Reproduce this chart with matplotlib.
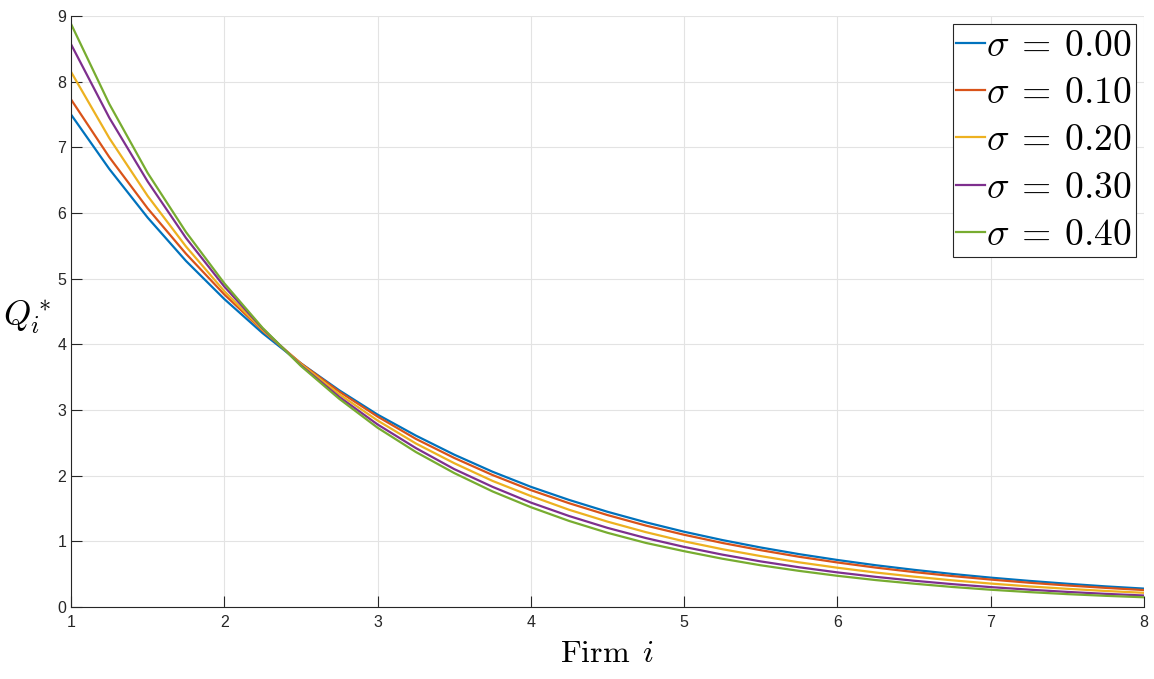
import matplotlib
matplotlib.use("Agg")
import matplotlib.pyplot as plt

# Firm index sample points
firm = [1, 1.25, 1.5, 1.75, 2, 2.25, 2.5, 2.75, 3, 3.25, 3.5, 3.75, 4, 4.25, 4.5, 4.75,
        5, 5.25, 5.5, 5.75, 6, 6.25, 6.5, 6.75, 7, 7.25, 7.5, 7.75, 8]

q_sigma_000 = [7.50, 6.67, 5.93, 5.27, 4.69, 4.17, 3.71, 3.30, 2.93, 2.61, 2.32, 2.06, 1.83, 1.63, 1.45, 1.29,
               1.146, 1.019, 0.906, 0.805, 0.716, 0.636, 0.566, 0.503, 0.447, 0.398, 0.354, 0.314, 0.28]
q_sigma_010 = [7.73, 6.85, 6.07, 5.38, 4.76, 4.21, 3.71, 3.28, 2.90, 2.56, 2.27, 2.01, 1.78, 1.58, 1.40, 1.24,
               1.10, 0.975, 0.865, 0.765, 0.678, 0.600, 0.532, 0.471, 0.418, 0.370, 0.328, 0.291, 0.258]
q_sigma_020 = [8.15, 7.14, 6.26, 5.49, 4.81, 4.22, 3.70, 3.24, 2.84, 2.49, 2.19, 1.92, 1.69, 1.48, 1.30, 1.14,
               1.00, 0.88, 0.775, 0.68, 0.598, 0.525, 0.462, 0.406, 0.357, 0.314, 0.277, 0.244, 0.216]
q_sigma_030 = [8.57, 7.45, 6.48, 5.62, 4.88, 4.24, 3.68, 3.20, 2.78, 2.42, 2.10, 1.83, 1.59, 1.385, 1.205, 1.05,
               0.915, 0.797, 0.694, 0.605, 0.527, 0.459, 0.400, 0.348, 0.303, 0.264, 0.230, 0.200, 0.175]
q_sigma_040 = [8.88, 7.66, 6.61, 5.71, 4.93, 4.25, 3.67, 3.17, 2.73, 2.36, 2.04, 1.76, 1.52, 1.31, 1.13, 0.976,
               0.85, 0.735, 0.635, 0.55, 0.475, 0.41, 0.355, 0.305, 0.263, 0.227, 0.196, 0.170, 0.148]

series = [q_sigma_000, q_sigma_010, q_sigma_020, q_sigma_030, q_sigma_040]
labels = [r'$\sigma\:=\:0.00$', r'$\sigma\:=\:0.10$', r'$\sigma\:=\:0.20$',
          r'$\sigma\:=\:0.30$', r'$\sigma\:=\:0.40$']
colors = ['#0072BD', '#D95319', '#EDB120', '#7E2F8E', '#77AC30']

x_ticks = [1, 2, 3, 4, 5, 6, 7, 8]
y_ticks = [0, 1, 2, 3, 4, 5, 6, 7, 8, 9]

plt.rcParams['mathtext.fontset'] = 'cm'
plt.rcParams['font.family'] = ['Liberation Sans', 'DejaVu Sans']

fig = plt.figure(figsize=(11.54, 6.79), dpi=100)
ax = fig.add_axes([71/1154, 72/679, (1144-71)/1154, (607-16)/679])

for ys, lab, c in zip(series, labels, colors):
    ax.plot(firm, ys, color=c, lw=1.6, label=lab)

ax.set_xlim(1, 8)
ax.set_ylim(0, 9)
ax.set_xticks(x_ticks)
ax.set_yticks(y_ticks)
ax.grid(True, color='#e3e3e3', lw=0.8)
ax.set_axisbelow(True)
for s in ['top', 'right']:
    ax.spines[s].set_visible(False)
for s in ['left', 'bottom']:
    ax.spines[s].set_color('#262626')
    ax.spines[s].set_linewidth(0.8)
ax.tick_params(direction='in', length=8, width=0.8, colors='#262626', labelsize=11.5)
ax.tick_params(axis='x', pad=6)

ax.set_xlabel(r'$\mathrm{Firm}\ \,i$', fontsize=23, labelpad=6)
ax.set_ylabel(r'$Q_i^*$', fontsize=25, rotation=0, ha='center', va='center')
ax.yaxis.set_label_coords(-0.041, 0.49)

leg = ax.legend(loc='upper right', fontsize=27, handlelength=0.75, handletextpad=0.05,
                borderpad=0.1, labelspacing=0.3, fancybox=False, framealpha=1,
                edgecolor='#262626', borderaxespad=0.22)
leg.get_frame().set_linewidth(0.8)

fig.savefig('out.png', dpi=100)
